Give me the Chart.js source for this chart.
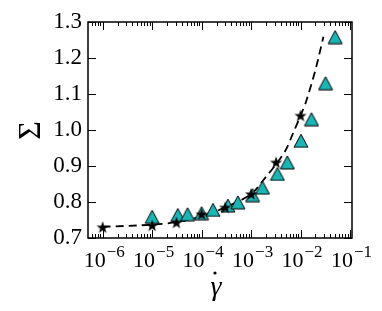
<!DOCTYPE html>
<html>
<head>
<meta charset="utf-8">
<script src="https://cdn.jsdelivr.net/npm/chart.js@4/dist/chart.umd.min.js"></script>
<style>
  html, body { margin: 0; padding: 0; background: #fff; }
  #wrap { width: 382px; height: 311px; }
</style>
</head>
<body>
<div id="wrap"><canvas id="chart" width="382" height="311"></canvas></div>
<script>
// triangles (teal)
const triX = [1e-5, 3.3e-5, 5.2e-5, 1e-4, 1.7e-4, 3.4e-4, 5.4e-4, 1.07e-3, 1.7e-3, 3.4e-3, 5.4e-3, 1.02e-2, 1.66e-2, 3.2e-2, 5.0e-2];
const triY = [0.759, 0.764, 0.766, 0.769, 0.778, 0.79, 0.799, 0.819, 0.84, 0.878, 0.91, 0.97, 1.03, 1.13, 1.258];
// stars (black)
const starX = [1e-6, 1e-5, 3.1e-5, 1e-4, 3.0e-4, 1e-3, 3.2e-3, 1e-2];
const starY = [0.730, 0.735, 0.743, 0.766, 0.785, 0.822, 0.91, 1.04];
// dashed fit curve
const fitX = [1e-6, 1e-5, 3e-5, 1e-4, 3e-4, 1e-3, 2e-3, 3e-3, 5e-3, 7e-3, 1e-2, 1.3e-2, 2e-2, 2.9e-2];
const fitY = [0.731, 0.737, 0.744, 0.760, 0.785, 0.822, 0.87, 0.90, 0.944, 0.99, 1.04, 1.08, 1.167, 1.259];
// ticks
const xMajor = [1e-6, 1e-5, 1e-4, 1e-3, 1e-2, 1e-1];
const xExp = ["\u22126", "\u22125", "\u22124", "\u22123", "\u22122", "\u22121"];
const yMajor = [0.7, 0.8, 0.9, 1.0, 1.1, 1.2, 1.3];

const SERIF = "'Liberation Serif', 'DejaVu Serif', serif";

function pts(xs, ys) {
  return xs.map((x, i) => ({ x: x, y: ys[i] }));
}

function markerTriangle() {
  const c = document.createElement("canvas");
  c.width = 16; c.height = 15;
  const g = c.getContext("2d");
  g.beginPath();
  g.moveTo(8, 1);
  g.lineTo(15, 14);
  g.lineTo(1, 14);
  g.closePath();
  g.fillStyle = "#1bb5b5";
  g.fill();
  g.lineWidth = 1;
  g.strokeStyle = "#000";
  g.stroke();
  return c;
}

function markerStar() {
  const c = document.createElement("canvas");
  c.width = 14; c.height = 14;
  const g = c.getContext("2d");
  g.beginPath();
  for (let i = 0; i < 10; i++) {
    const r = i % 2 === 0 ? 6.4 : 2.6;
    const a = -Math.PI / 2 + i * Math.PI / 5;
    const px = 7 + r * Math.cos(a), py = 7.5 + r * Math.sin(a);
    if (i === 0) g.moveTo(px, py); else g.lineTo(px, py);
  }
  g.closePath();
  g.fillStyle = "#000";
  g.fill();
  return c;
}

const frameTicks = {
  id: "frameTicks",
  afterDraw(chart) {
    const { ctx, chartArea: a, scales } = chart;
    const xs = scales.x, ys = scales.y;
    ctx.save();
    ctx.strokeStyle = "#000";
    ctx.lineWidth = 1;
    ctx.beginPath();
    // x major + minor ticks, bottom and top
    for (let d = -7; d <= 0; d++) {
      for (let m = 1; m <= 9; m++) {
        const v = m * Math.pow(10, d);
        if (v < xs.min || v > xs.max) continue;
        const px = Math.round(xs.getPixelForValue(v)) + 0.5;
        const len = m === 1 ? 8 : 4;
        ctx.moveTo(px, a.bottom); ctx.lineTo(px, a.bottom - len);
        ctx.moveTo(px, a.top); ctx.lineTo(px, a.top + len);
      }
    }
    yMajor.forEach((v) => {
      const py = Math.round(ys.getPixelForValue(v)) + 0.5;
      ctx.moveTo(a.left, py); ctx.lineTo(a.left + 8, py);
      ctx.moveTo(a.right, py); ctx.lineTo(a.right - 8, py);
    });
    ctx.stroke();
    ctx.lineWidth = 1.5;
    ctx.strokeRect(a.left, a.top, a.right - a.left, a.bottom - a.top);

    // x tick labels 10^n
    ctx.fillStyle = "#000";
    ctx.textBaseline = "alphabetic";
    ctx.textAlign = "left";
    xMajor.forEach((v, i) => {
      const px = xs.getPixelForValue(v);
      ctx.font = "22px " + SERIF;
      const w1 = ctx.measureText("10").width;
      ctx.font = "17px " + SERIF;
      const w2 = ctx.measureText(xExp[i]).width;
      const x0 = px - (w1 + w2) / 2 + 1;
      ctx.font = "22px " + SERIF;
      ctx.fillText("10", x0, a.bottom + 29);
      ctx.font = "17px " + SERIF;
      ctx.fillText(xExp[i], x0 + w1 + 1, a.bottom + 19);
    });

    // axis titles
    ctx.textAlign = "center";
    ctx.textBaseline = "middle";
    ctx.save();
    ctx.translate(31, 130.5);
    ctx.rotate(-Math.PI / 2);
    ctx.font = "32px " + SERIF;
    ctx.fillText("\u03a3", 0, 1);
    ctx.restore();

    ctx.font = "italic 28px " + SERIF;
    ctx.textBaseline = "alphabetic";
    ctx.fillText("\u03b3", 216, 295);
    ctx.beginPath();
    ctx.arc(215, 273, 1.6, 0, Math.PI * 2);
    ctx.fill();
    ctx.restore();
  },
};

const ctx = document.getElementById("chart");
new Chart(ctx, {
  type: "scatter",
  data: {
    datasets: [
      {
        type: "line",
        label: "fit",
        data: pts(fitX, fitY),
        borderColor: "#000",
        borderWidth: 1.8,
        borderDash: [8, 5],
        pointRadius: 0,
        fill: false,
        tension: 0.3,
        order: 3,
      },
      {
        label: "triangles",
        data: pts(triX, triY),
        pointStyle: markerTriangle(),
        order: 2,
      },
      {
        label: "stars",
        data: pts(starX, starY),
        pointStyle: markerStar(),
        order: 1,
      },
    ],
  },
  options: {
    responsive: false,
    animation: false,
    events: [],
    layout: { padding: { top: 22, right: 30, left: 0, bottom: 0 } },
    scales: {
      x: {
        type: "logarithmic",
        min: 5.05e-7,
        max: 0.1096,
        grid: { display: false, drawTicks: false },
        border: { display: false },
        ticks: { display: false },
        afterFit: (s) => { s.height = 73; },
      },
      y: {
        min: 0.7,
        max: 1.3,
        grid: { display: false, drawTicks: false },
        border: { display: false },
        afterBuildTicks: (s) => { s.ticks = yMajor.map((v) => ({ value: v })); },
        ticks: {
          padding: 6,
          color: "#000",
          font: { family: SERIF, size: 23 },
          callback: (v) => Number(v).toFixed(1),
        },
        afterFit: (s) => { s.width = 88; },
      },
    },
    plugins: {
      legend: { display: false },
      tooltip: { enabled: false },
    },
  },
  plugins: [frameTicks],
});
</script>
</body>
</html>
